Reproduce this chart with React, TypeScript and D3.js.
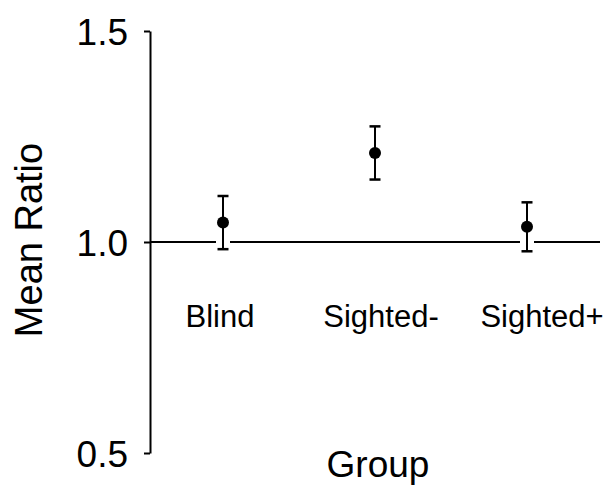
import React, { useEffect, useRef } from 'react';
import * as d3 from 'd3';

const groups = ['Blind', 'Sighted-', 'Sighted+'];
const means = [1.046, 1.211, 1.036];
const errors = [0.063, 0.063, 0.058];
const yTicks = [0.5, 1.0, 1.5];
const refValue = 1.0;

const W = 608;
const H = 488;
const FONT = '"Liberation Sans", Arial, Helvetica, sans-serif';

const YAxis = ({ x, scale }: { x: number; scale: d3.ScaleLinear<number, number> }) => {
    const ref = useRef<SVGGElement>(null);
    useEffect(() => {
        const g = d3.select(ref.current);
        g.call(
            d3.axisLeft(scale).tickValues(yTicks).tickFormat(d3.format('.1f')).tickSize(6).tickSizeOuter(0).tickPadding(16)
        );
        g.select('.domain').attr('stroke', '#000').attr('stroke-width', 2);
        g.selectAll('.tick line').attr('stroke', '#000').attr('stroke-width', 2);
        g.selectAll('.tick text')
            .attr('fill', '#000')
            .style('font-family', FONT)
            .style('font-size', '37px')
            .attr('dy', '0.36em');
    }, [scale]);
    return <g transform={`translate(${x},0)`} ref={ref} />;
};

export default function App() {
    const axisX = 150;
    const y = d3.scaleLinear().domain([0.5, 1.5]).range([453, 31]);
    const xPoint = d3.scalePoint<string>().domain(groups).range([223, 527]);
    const xLabel = d3.scalePoint<string>().domain(groups).range([220, 542]);
    const cap = 5.5;

    return (
        <svg width={W} height={H} style={{ position: 'absolute', left: 0, top: 0, background: '#fff' }}>
            <line x1={axisX} x2={600} y1={y(refValue)} y2={y(refValue)} stroke="#000" strokeWidth={2} />
            {groups.map((gname, i) => {
                const cx = xPoint(gname) as number;
                const top = y(means[i] + errors[i]);
                const bot = y(means[i] - errors[i]);
                return (
                    <g key={gname}>
                        <line x1={cx} x2={cx} y1={top} y2={bot} stroke="#fff" strokeWidth={14} />
                        <line x1={cx} x2={cx} y1={top} y2={bot} stroke="#000" strokeWidth={2} />
                        <line x1={cx - cap} x2={cx + cap} y1={top} y2={top} stroke="#000" strokeWidth={2.5} />
                        <line x1={cx - cap} x2={cx + cap} y1={bot} y2={bot} stroke="#000" strokeWidth={2.5} />
                        <circle cx={cx} cy={y(means[i])} r={6} fill="#000" />
                    </g>
                );
            })}
            <YAxis x={axisX} scale={y} />
            {groups.map((gname) => (
                <text
                    key={'l' + gname}
                    x={xLabel(gname) as number}
                    y={327}
                    textAnchor="middle"
                    fontFamily={FONT}
                    fontSize={31}
                    fill="#000"
                >
                    {gname}
                </text>
            ))}
            <text x={378} y={477} textAnchor="middle" fontFamily={FONT} fontSize={37} fill="#000">
                Group
            </text>
            <text
                transform={`translate(42,240) rotate(-90)`}
                textAnchor="middle"
                fontFamily={FONT}
                fontSize={38}
                fill="#000"
            >
                Mean Ratio
            </text>
        </svg>
    );
}
